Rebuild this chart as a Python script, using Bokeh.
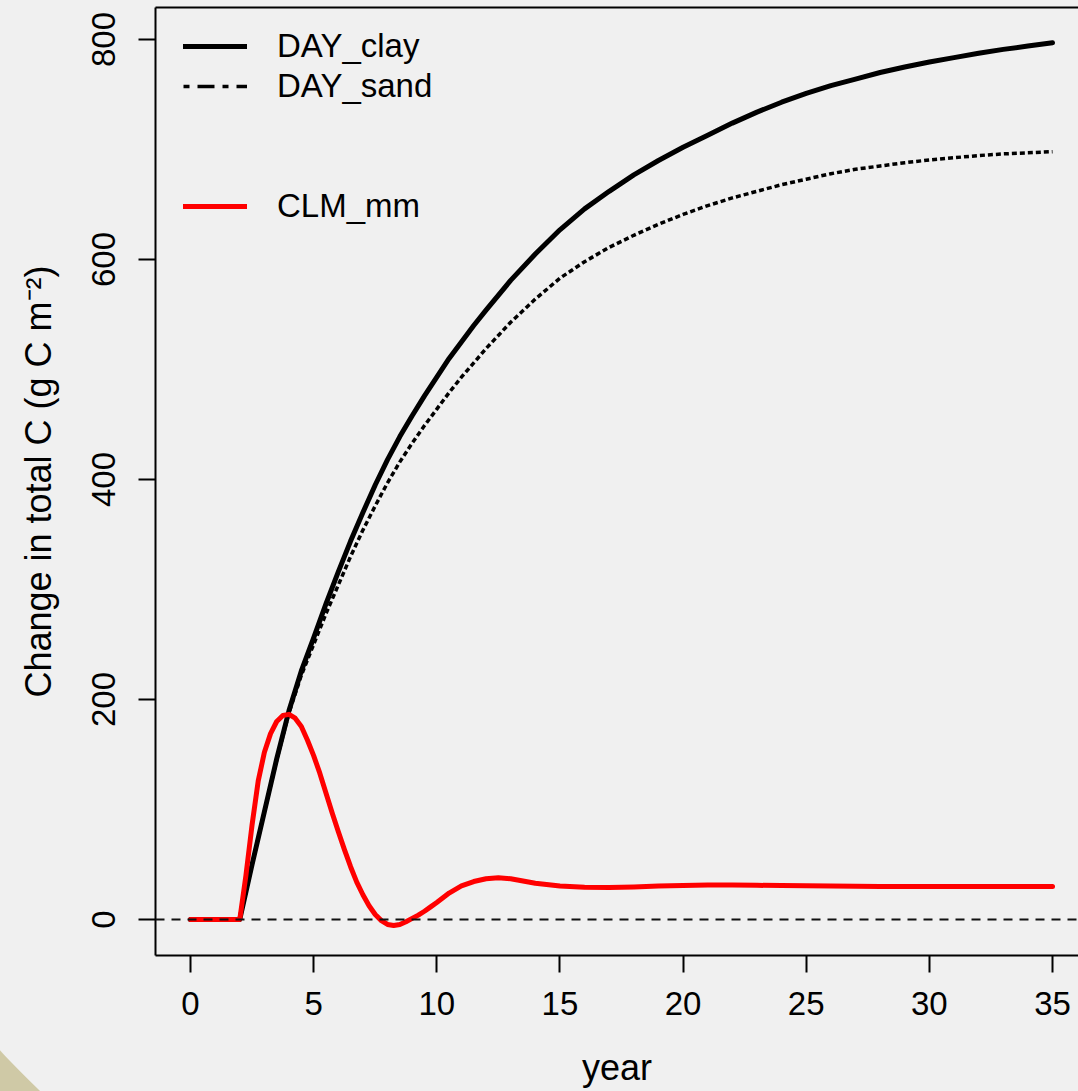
from bokeh.plotting import figure
from bokeh.models import Range1d, LinearAxis, FixedTicker, Span, Legend, LegendItem
from bokeh.embed import file_html
from bokeh.resources import INLINE

# ---- data ----
years_day = [0, 1, 2, 2.5, 3, 3.5, 4, 4.5, 5, 5.5, 6, 6.5, 7, 7.5, 8, 8.5, 9, 9.5, 10, 10.5,
             11, 11.5, 12, 13, 14, 15, 16, 17, 18, 19, 20, 21, 22, 23, 24, 25, 26, 27, 28, 29,
             30, 31, 32, 33, 34, 35]
day_clay = [0, 0, 0, 50, 98, 146, 190, 226, 256, 287, 316, 344, 370, 395, 418, 439, 458, 476, 493, 510,
            525, 540, 554, 581, 605, 627, 646, 662, 677, 690, 702, 713, 724, 734, 743, 751, 758, 764, 770, 775,
            779.5, 783.5, 787.5, 791, 794, 797]
day_sand = [0, 0, 0, 50, 98, 145, 188, 222, 250, 278, 304, 330, 354, 376, 397, 416, 433, 449, 464, 479,
            493, 506, 519, 543, 564, 583, 598, 611, 622, 632, 641, 649, 656, 662, 668, 673, 678, 682, 685, 688,
            690.5, 692.5, 694.5, 696, 697, 698]

years_clm = [0, 0.5, 1, 1.5, 2, 2.25, 2.5, 2.75, 3, 3.25, 3.5, 3.75, 4, 4.25, 4.5, 4.75,
             5, 5.25, 5.5, 5.75, 6, 6.25, 6.5, 6.75, 7, 7.25, 7.5, 7.75, 8, 8.25, 8.5, 8.75,
             9, 9.25, 9.5, 9.75, 10, 10.5, 11, 11.5, 12, 12.5, 13, 13.5, 14,
             15, 16, 17, 18, 19, 20, 21, 22, 23, 24, 25, 26, 27, 28, 29, 30, 31, 32, 33, 34, 35]
clm_mm = [0, 0, 0, 0, 0, 40, 86, 126, 152, 169, 180, 185.5, 186.5, 183, 175.5, 163,
          149, 133, 115, 97, 80, 63.5, 48, 34, 22.5, 12.5, 4.5, -1, -4.5, -5.5, -4.5, -2,
          1, 4, 7.5, 11.5, 15.5, 24, 30.5, 34.5, 37, 38, 37, 35, 33,
          30.5, 29.3, 29, 29.6, 30.4, 31, 31.4, 31.4, 31.1, 30.8, 30.6, 30.4, 30.2, 30.1, 30, 30, 30, 30, 30, 30, 30]

x_ticks = [0, 5, 10, 15, 20, 25, 30, 35]
y_ticks = [0, 200, 400, 600, 800]
reference_level = 0
legend_labels = ["DAY_clay", "DAY_sand", "CLM_mm"]

FONT = "Liberation Sans"
TICK_FS = "33px"
TITLE_FS = "36px"
nan = float("nan")

p = figure(width=1078, height=1091, output_backend="svg", toolbar_location=None,
           x_range=Range1d(-1.421, 36.055), y_range=Range1d(-32.73, 829.09),
           min_border_left=155, min_border_right=0, min_border_top=7, min_border_bottom=136,
           x_axis_label="year", y_axis_label="Change in total C (g C m\u207b\u00b2)")
p.grid.visible = False
p.outline_line_color = None
p.background_fill_alpha = 0
p.border_fill_alpha = 0

for ax in (p.xaxis[0], p.yaxis[0]):
    ax.axis_line_width = 2
    ax.axis_line_color = "black"
    ax.major_tick_line_width = 2
    ax.major_tick_line_color = "black"
    ax.major_tick_out = 17
    ax.major_tick_in = 0
    ax.minor_tick_line_color = None
    ax.major_label_text_font = FONT
    ax.major_label_text_font_size = TICK_FS
    ax.major_label_text_color = "black"
    ax.axis_label_text_font = FONT
    ax.axis_label_text_font_size = TITLE_FS
    ax.axis_label_text_font_style = "normal"
    ax.axis_label_text_color = "black"

p.xaxis[0].ticker = FixedTicker(ticks=x_ticks)
p.yaxis[0].ticker = FixedTicker(ticks=y_ticks)
p.yaxis[0].major_label_orientation = "vertical"
p.xaxis[0].major_label_standoff = 19
p.yaxis[0].major_label_standoff = 23
p.xaxis[0].axis_label_standoff = 29
p.yaxis[0].axis_label_standoff = 31

top_axis = LinearAxis(ticker=FixedTicker(ticks=[]), axis_line_width=2, axis_line_color="black",
                      major_tick_line_color=None, minor_tick_line_color=None,
                      major_tick_out=0, major_tick_in=0, major_label_text_font_size="0px")
p.add_layout(top_axis, "above")

r_clay = p.line(years_day, day_clay, line_color="black", line_width=5,
                line_cap="round", line_join="round")
r_sand = p.line(years_day, day_sand, line_color="black", line_width=3.5, line_dash="5 3")
r_clm = p.line(years_clm, clm_mm, line_color="red", line_width=5,
               line_cap="round", line_join="round")

p.add_layout(Span(location=reference_level, dimension="width", line_color="#111111",
                  line_width=2, line_dash="9 7"))

sand_key = p.line([nan], [nan], line_color="black", line_width=3.5, line_dash="6 8 17 8")
blank_key = p.line([nan], [nan], line_alpha=0)

legend = Legend(items=[
    LegendItem(label=legend_labels[0], renderers=[r_clay]),
    LegendItem(label=legend_labels[1], renderers=[sand_key]),
    LegendItem(label=" ", renderers=[blank_key]),
    LegendItem(label=" ", renderers=[blank_key]),
    LegendItem(label=legend_labels[2], renderers=[r_clm]),
], location=(28, 729))
legend.border_line_color = None
legend.background_fill_alpha = 0
legend.padding = 0
legend.margin = 0
legend.spacing = 0
legend.glyph_width = 64
legend.glyph_height = 40
legend.label_height = 40
legend.label_standoff = 30
legend.label_text_font = FONT
legend.label_text_font_size = "33px"
legend.label_text_color = "black"
p.add_layout(legend)

html = file_html(p, INLINE, title="Change in total C")
css = ("<style>html{background:#cfc9a6 radial-gradient(circle 956px at 700px 400px,"
       "#f0f0f0 955px,#cfc9a6 956px) no-repeat fixed;}body{background:transparent;}</style>")
html = html.replace("</head>", css + "</head>", 1)
open("out.html", "w").write(html)
